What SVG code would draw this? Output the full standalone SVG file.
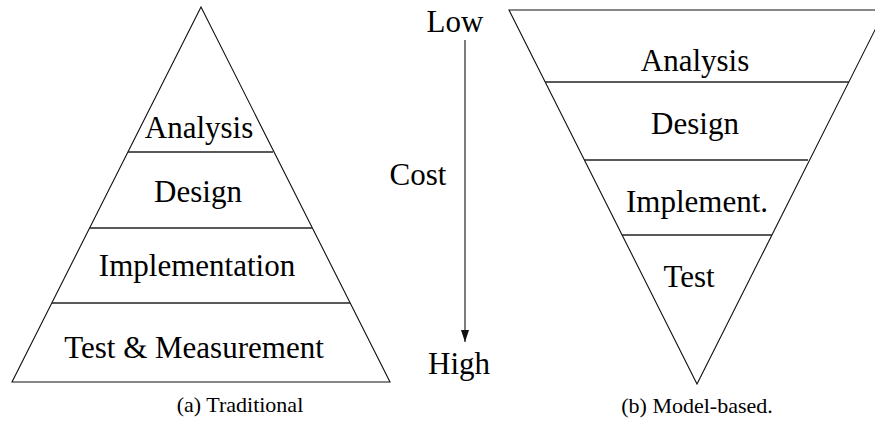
<svg xmlns="http://www.w3.org/2000/svg" width="875" height="422" viewBox="0 0 875 422">
  <style>
    .edge { fill: none; stroke: #111; stroke-width: 1.1; }
    .band { stroke: #222; stroke-width: 1.3; }
    .lbl { font-family: 'Liberation Serif', 'Times New Roman', serif; font-size: 31px; fill: #000; text-anchor: middle; }
    .cap { font-family: 'Liberation Serif', 'Times New Roman', serif; font-size: 22px; fill: #000; text-anchor: middle; }
  </style>
  <defs>
    <marker id="arrowhead" markerWidth="12" markerHeight="8" refX="12" refY="4" orient="auto" markerUnits="userSpaceOnUse" viewBox="0 0 12 8">
      <path d="M0,0 L12,4 L0,8 Z" fill="#111"/>
    </marker>
  </defs>

  <!-- Traditional pyramid -->
  <g id="traditional">
    <polygon class="edge" points="201,7 390,382 12,382"/>
    <line class="band" x1="128" y1="152" x2="273" y2="152"/>
    <line class="band" x1="90" y1="228" x2="312" y2="228"/>
    <line class="band" x1="52" y1="303" x2="350" y2="303"/>
    <text class="lbl" x="199" y="138">Analysis</text>
    <text class="lbl" x="198" y="202">Design</text>
    <text class="lbl" x="197" y="276">Implementation</text>
    <text class="lbl" x="194" y="358">Test &amp; Measurement</text>
    <text class="cap" x="240" y="412">(a) Traditional</text>
  </g>

  <!-- Cost axis labels -->
  <g id="cost-axis">
    <text class="lbl" x="455" y="32">Low</text>
    <text class="lbl" x="418" y="185">Cost</text>
    <text class="lbl" x="459" y="374">High</text>
  </g>
  <g id="connectors">
    <line x1="465" y1="40" x2="465" y2="342" stroke="#111" stroke-width="1.1" marker-end="url(#arrowhead)"/>
  </g>

  <!-- Model-based inverted pyramid -->
  <g id="model-based">
    <polygon class="edge" points="509,10 885,10 697,384"/>
    <line class="band" x1="545" y1="82" x2="849" y2="82"/>
    <line class="band" x1="584" y1="160" x2="808" y2="160"/>
    <line class="band" x1="622" y1="235" x2="772" y2="235"/>
    <text class="lbl" x="695" y="71">Analysis</text>
    <text class="lbl" x="695" y="134">Design</text>
    <text class="lbl" x="697" y="212">Implement.</text>
    <text class="lbl" x="689" y="287">Test</text>
    <text class="cap" x="697" y="413">(b) Model-based.</text>
  </g>
</svg>
